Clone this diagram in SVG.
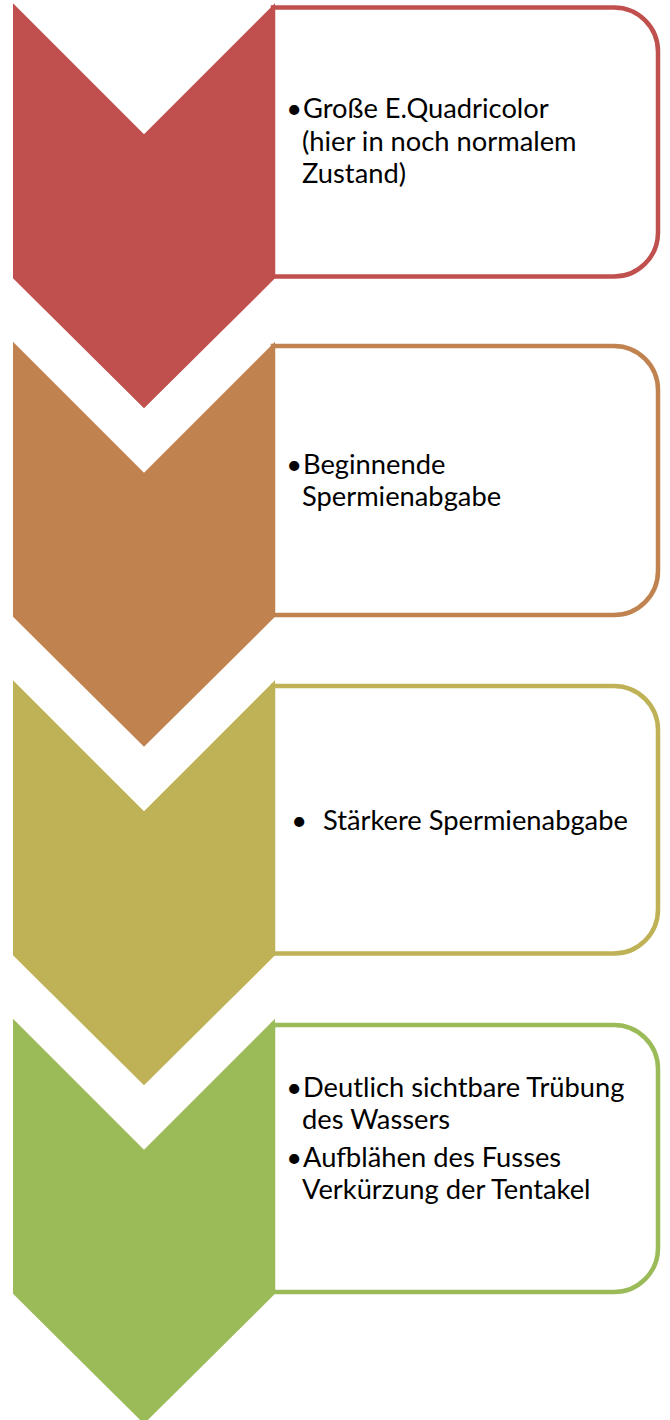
<svg xmlns="http://www.w3.org/2000/svg" width="670" height="1420" viewBox="0 0 670 1420">
<style>
.box{fill:#ffffff;stroke-width:4.5}
.t{font-family:Lato,"Liberation Sans",sans-serif;font-size:27.3px;fill:#000000}
.b{font-family:Lato,"Liberation Sans",sans-serif;font-size:27.3px;fill:#000000;text-anchor:end}
</style>
<rect width="670" height="1420" fill="#ffffff"/>
<g id="node1">
<path class="box" stroke="#C0504D" d="M273,7.5 H614 A44,44 0 0 1 658,51.5 V232.5 A44,44 0 0 1 614,276.5 H273 Z"/>
<polygon fill="#C0504D" points="13,3.3 144,134.3 275,3.3 275,278.3 144,408.3 13,278.3"/>
<text class="b" x="302" y="118">•</text>
<text class="t"><tspan x="303" y="118">Große E.Quadricolor</tspan><tspan x="302" y="151">(hier in noch normalem</tspan><tspan x="302" y="183">Zustand)</tspan></text>
</g>
<g id="node2">
<path class="box" stroke="#C08350" d="M273,346 H614 A44,44 0 0 1 658,390 V571 A44,44 0 0 1 614,615 H273 Z"/>
<polygon fill="#C08350" points="13,341.8 144,472.8 275,341.8 275,616.8 144,746.8 13,616.8"/>
<text class="b" x="302" y="474">•</text>
<text class="t"><tspan x="303" y="474">Beginnende</tspan><tspan x="302" y="506">Spermienabgabe</tspan></text>
</g>
<g id="node3">
<path class="box" stroke="#BFB256" d="M273,686 H614 A44,44 0 0 1 658,730 V909.5 A44,44 0 0 1 614,953.5 H273 Z"/>
<polygon fill="#BFB256" points="13,680.3 144,811.3 275,680.3 275,955.3 144,1085.3 13,955.3"/>
<text class="b" x="307" y="830">•</text>
<text class="t" x="323" y="830">Stärkere Spermienabgabe</text>
</g>
<g id="node4">
<path class="box" stroke="#9BBB59" d="M273,1025 H614 A44,44 0 0 1 658,1069 V1248 A44,44 0 0 1 614,1292 H273 Z"/>
<polygon fill="#9BBB59" points="13,1018.8 144,1149.8 275,1018.8 275,1293.8 144,1423.8 13,1293.8"/>
<text class="b" x="302" y="1097">•</text>
<text class="b" x="302" y="1167">•</text>
<text class="t"><tspan x="303" y="1097">Deutlich sichtbare Trübung</tspan><tspan x="302" y="1128.5">des Wassers</tspan><tspan x="303" y="1167">Aufblähen des Fusses</tspan><tspan x="302" y="1198.5">Verkürzung der Tentakel</tspan></text>
</g>
<g id="connectors"></g>
</svg>
